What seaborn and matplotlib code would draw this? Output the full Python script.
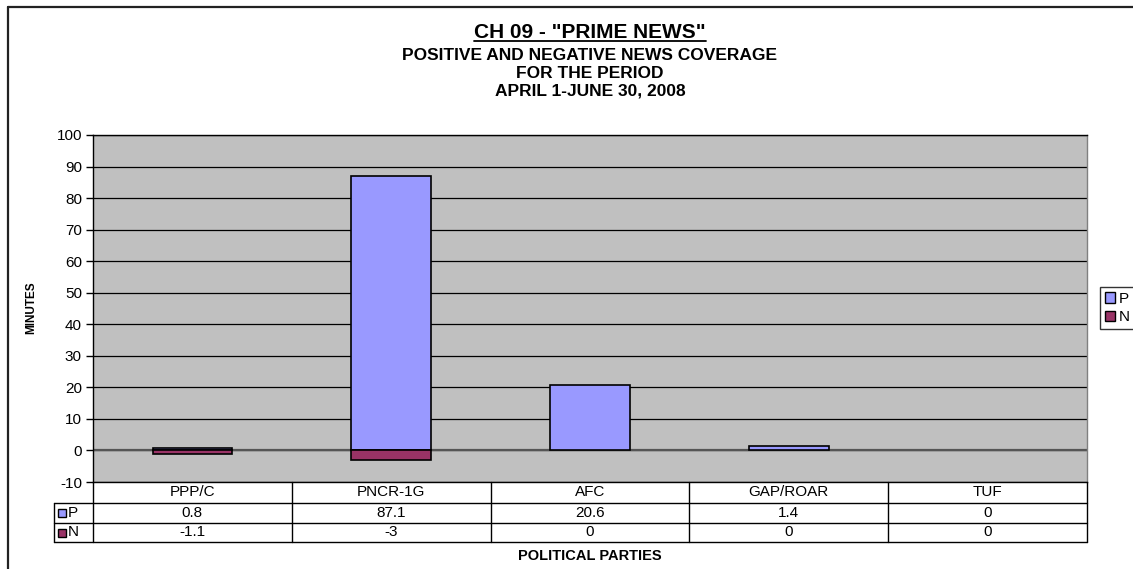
import matplotlib
matplotlib.use("Agg")
import matplotlib.pyplot as plt
from matplotlib.lines import Line2D
from matplotlib.patches import Patch, Rectangle
import pandas as pd
import seaborn as sns

# chart data
parties = ["PPP/C", "PNCR-1G", "AFC", "GAP/ROAR", "TUF"]
positive = [0.8, 87.1, 20.6, 1.4, 0]
negative = [-1.1, -3, 0, 0, 0]
series_names = ["P", "N"]
series_colors = ["#9999FF", "#993366"]
y_ticks = list(range(-10, 101, 10))
title_lines = ['CH 09 - "PRIME NEWS"', "POSITIVE AND NEGATIVE NEWS COVERAGE",
               "FOR THE PERIOD", "APRIL 1-JUNE 30, 2008"]

sns.set_style("white")
plt.rcParams["font.family"] = ["Liberation Sans", "DejaVu Sans"]
plt.rcParams["axes.unicode_minus"] = False
for key in ["text.color", "axes.labelcolor", "xtick.color", "ytick.color"]:
    plt.rcParams[key] = "black"

W, H = 1133, 569
fig = plt.figure(figsize=(W / 100, H / 100), dpi=100)


def px_box(x0, y0, x1, y1):
    # pixel box (top-left origin) -> figure fraction rect
    return [x0 / W, 1 - y1 / H, (x1 - x0) / W, (y1 - y0) / H]


# outer chart frame (top and left edges visible)
fig.add_artist(Line2D([7.5 / W, 1.0], [1 - 7 / H] * 2, color="#222222", lw=1.6))
fig.add_artist(Line2D([7.5 / W] * 2, [0.0, 1 - 7 / H], color="#222222", lw=1.6))

# main plot
ax = fig.add_axes(px_box(93, 135, 1087, 482))
ax.set_facecolor("#C0C0C0")

df = pd.DataFrame({
    "party": parties * 2,
    "series": [series_names[0]] * len(parties) + [series_names[1]] * len(parties),
    "minutes": positive + negative,
})
for name, color in zip(series_names, series_colors):
    part = df[(df["series"] == name) & (df["minutes"] != 0)]
    sns.barplot(data=part, x="party", y="minutes", order=parties, color=color,
                saturation=1, edgecolor="black", linewidth=1.2, width=0.4,
                errorbar=None, ax=ax, zorder=3)

ax.set_xlim(-0.5, len(parties) - 0.5)
ax.set_ylim(-10, 100)
ax.set_yticks(y_ticks)
ax.set_xticks([])
ax.set_xlabel("")
ax.set_ylabel("")
ax.yaxis.grid(True, color="black", lw=0.9)
ax.set_axisbelow(True)
ax.axhline(0, color="#555555", lw=1.6, zorder=2)
ax.tick_params(axis="y", direction="out", length=5, width=1, color="black",
               labelsize=11, pad=3, left=True)
for side in ["left", "top", "bottom"]:
    ax.spines[side].set_color("black")
    ax.spines[side].set_linewidth(1)
ax.spines["right"].set_color("#808080")
ax.spines["right"].set_linewidth(1)

# data table under the plot
tab = fig.add_axes(px_box(54, 482, 1087, 542))
unit = (1087 - 93) / len(parties)
left = -0.5 - (93 - 54) / unit
right = len(parties) - 0.5
tab.set_xlim(left, right)
tab.set_ylim(60, 0)
tab.axis("off")
rows = [0, 21, 41, 60]
line_kw = dict(color="black", lw=1, clip_on=False)
for r in rows[1:]:
    tab.plot([left, right], [r, r], **line_kw)
tab.plot([left, left], [rows[1], rows[3]], **line_kw)
for b in [i - 0.5 for i in range(len(parties) + 1)]:
    tab.plot([b, b], [0, 60], **line_kw)

for i, p in enumerate(parties):
    tab.text(i, (rows[0] + rows[1]) / 2, p, ha="center", va="center", fontsize=11)
for k, (vals, name, color) in enumerate(zip([positive, negative], series_names, series_colors)):
    mid = (rows[k + 1] + rows[k + 2]) / 2
    for i, v in enumerate(vals):
        tab.text(i, mid, f"{v:g}", ha="center", va="center", fontsize=11)
    tab.add_patch(Rectangle((left + 4 / unit, mid - 4), 8 / unit, 8, facecolor=color,
                            edgecolor="black", lw=1, clip_on=False))
    tab.text(left + 14 / unit, mid, name, ha="left", va="center", fontsize=11)

# titles
sizes = [15, 12.5, 12.5, 12.5]
baselines = [38, 60, 78, 96]
center_x = (93 + 1087) / 2 / W
title_texts = []
for line, size, base in zip(title_lines, sizes, baselines):
    title_texts.append(fig.text(center_x, 1 - base / H, line, ha="center", va="baseline",
                                fontsize=size, fontweight="bold"))

fig.text(31 / W, 1 - 308 / H, "MINUTES", rotation=90, ha="center", va="center",
         fontsize=8.5, fontweight="bold")
fig.text(center_x, 1 - 556 / H, "POLITICAL PARTIES", ha="center", va="center",
         fontsize=10.5, fontweight="bold")

# legend at the right edge
handles = [Patch(facecolor=c, edgecolor="black", lw=1) for c in series_colors]
leg = fig.legend(handles, series_names, loc="center left",
                 bbox_to_anchor=(1100 / W, 1 - 308 / H), frameon=True, fancybox=False,
                 edgecolor="black", fontsize=11, handlelength=0.7, handleheight=0.7,
                 handletextpad=0.2, borderpad=0.3, labelspacing=0.3, borderaxespad=0)
leg.get_frame().set_linewidth(1)

# underline the first title line
fig.canvas.draw()
bb = title_texts[0].get_window_extent(fig.canvas.get_renderer())
uy = 1 - 41 / H
fig.add_artist(Line2D([bb.x0 / W, bb.x1 / W], [uy, uy], color="black", lw=1.3))

fig.savefig("out.png", dpi=100)
